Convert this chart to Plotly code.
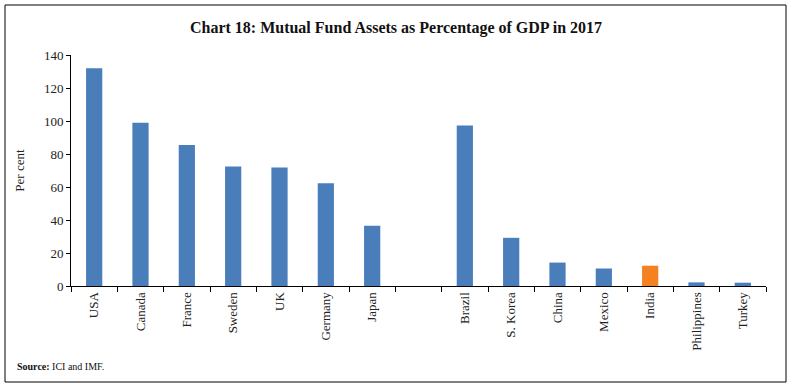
import plotly.graph_objects as go

countries = ["USA", "Canada", "France", "Sweden", "UK", "Germany", "Japan", " ",
             "Brazil", "S. Korea", "China", "Mexico", "India", "Philippines", "Turkey"]
values = [132, 99, 85.5, 72.5, 71.8, 62.3, 36.5, None,
          97.3, 29.2, 14.2, 10.6, 12.3, 2.2, 2.0]
colors = ["#4A7EBB"] * 12 + ["#F58220"] + ["#4A7EBB"] * 2

font = "Liberation Serif"

fig = go.Figure(go.Bar(x=countries, y=values, marker=dict(color=colors, line=dict(width=0)),
                       width=0.35, hoverinfo="skip"))

W, H = 792, 387
L, R, T, B = 71, 26, 55, 101
pw, ph = W - L - R, H - T - B

def px(x):
    return (x - L) / pw

def py(y):
    return (H - B - y) / ph

fig.update_layout(
    width=W, height=H,
    margin=dict(l=L, r=R, t=T, b=B),
    paper_bgcolor="white", plot_bgcolor="white",
    showlegend=False,
    font=dict(family=font, color="#222", size=13),
    title=dict(text="<b>Chart 18: Mutual Fund Assets as Percentage of GDP in 2017</b>",
               x=0.5, xanchor="center", y=1 - 27 / H, yanchor="middle",
               font=dict(family=font, size=16, color="#111")),
    xaxis=dict(type="category", tickangle=-90, showline=True, linecolor="black",
               linewidth=1, ticks="outside", tickson="boundaries", ticklen=5,
               tickcolor="black", showgrid=False, tickfont=dict(size=13, family=font)),
    yaxis=dict(range=[0, 140], dtick=20, showline=True, linecolor="black", linewidth=1,
               ticks="outside", ticklen=4, tickcolor="black", showgrid=False, zeroline=False,
               title=dict(text="Per cent", font=dict(size=13, family=font), standoff=16),
               tickfont=dict(size=13, family=font)),
    shapes=[dict(type="rect", xref="paper", yref="paper",
                 x0=px(5), x1=px(786), y0=py(382), y1=py(5),
                 line=dict(color="black", width=1), fillcolor="rgba(0,0,0,0)", layer="below")],
    annotations=[dict(text="<b>Source:</b> ICI and IMF.", xref="paper", yref="paper",
                      x=px(15), y=py(366), xanchor="left", yanchor="middle", showarrow=False,
                      font=dict(size=10, family=font, color="#111"))],
)

fig.write_html("out.html", config={"displayModeBar": False},
               post_script="document.body.style.margin='0';")
